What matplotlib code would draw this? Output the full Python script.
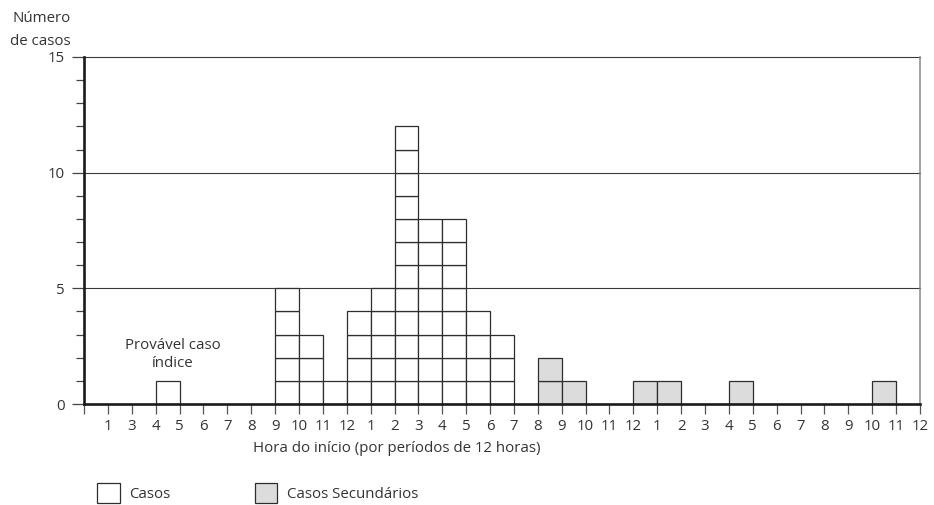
import matplotlib
matplotlib.use("Agg")
import matplotlib.pyplot as plt
from matplotlib.patches import Patch
import numpy as np

# ---- data ----
tick_labels = ["1", "3", "4", "5", "6", "7", "8", "9", "10", "11", "12",
               "1", "2", "3", "4", "5", "6", "7", "8", "9", "10", "11", "12",
               "1", "2", "3", "4", "5", "6", "7", "8", "9", "10", "11", "12"]
# counts per 12-hour period (period p lies between tick p and p+1)
casos = [0, 0, 0, 1, 0, 0, 0, 0, 5, 3, 1, 4, 5, 12, 8, 8, 4, 3,
         0, 0, 0, 0, 0, 0, 0, 0, 0, 0, 0, 0, 0, 0, 0, 0, 0]
secundarios = [0, 0, 0, 0, 0, 0, 0, 0, 0, 0, 0, 0, 0, 0, 0, 0, 0, 0,
               0, 2, 1, 0, 0, 1, 1, 0, 0, 1, 0, 0, 0, 0, 0, 1, 0]
y_major = [0, 5, 10, 15]

plt.rcParams['font.family'] = ['Open Sans', 'DejaVu Sans']
TXT = '#333333'
EDGE = '#2e2e2e'
GRAY = '#dcdcdc'
FS = 10.8

fig = plt.figure(figsize=(9.34, 5.05), dpi=100)
W, H = 934, 505
ax = fig.add_axes([84 / W, 101 / H, (920 - 84) / W, (404 - 57) / H])

n = len(tick_labels)
periods = np.arange(n)

def draw_stacks(counts, face):
    for p, c in zip(periods, counts):
        for k in range(c):
            ax.bar(p, 1, bottom=k, width=1, align='edge', color=face,
                   edgecolor=EDGE, linewidth=0.9, zorder=3)

draw_stacks(casos, 'white')
draw_stacks(secundarios, GRAY)

ax.set_xlim(0, n)
ax.set_ylim(0, 15)

# gridlines at 5,10,15
for yv in y_major[1:]:
    ax.axhline(yv, color='#3a3a3a', lw=0.8, zorder=1, clip_on=False)

# spines
ax.spines['top'].set_visible(False)
ax.spines['left'].set_linewidth(1.9)
ax.spines['left'].set_color('#1a1a1a')
ax.spines['bottom'].set_linewidth(1.9)
ax.spines['bottom'].set_color('#1a1a1a')
ax.spines['bottom'].set_zorder(5)
ax.spines['right'].set_linewidth(1.1)
ax.spines['right'].set_color('#8a8a8a')

# ticks
ax.set_xticks(np.arange(0, n + 1))
ax.set_xticklabels([""] + tick_labels)
ax.tick_params(axis='x', direction='out', length=7, width=0.9, color='#555555',
               pad=4, labelsize=FS, labelcolor=TXT)
ax.set_yticks(y_major)
ax.set_yticks(np.arange(0, 16), minor=True)
ax.tick_params(axis='y', which='major', direction='out', length=9, width=0.9,
               color='#444444', pad=5, labelsize=FS, labelcolor=TXT)
ax.tick_params(axis='y', which='minor', direction='out', length=6, width=0.9,
               color='#444444')

# annotation
ax.text(3.72, 2.15, "Provável caso\níndice", ha='center', va='center',
        fontsize=FS, color=TXT, linespacing=1.3)

# axis titles
fig.text(71 / W, 1 - 30 / H, "Número\nde casos", ha='right', va='center',
         fontsize=FS, color=TXT, linespacing=1.65)
fig.text(397 / W, 1 - 449 / H, "Hora do início (por períodos de 12 horas)",
         ha='center', va='center', fontsize=FS, color=TXT)

# legend
handles = [Patch(facecolor='white', edgecolor=EDGE, linewidth=0.9, label='Casos'),
           Patch(facecolor=GRAY, edgecolor=EDGE, linewidth=0.9, label='Casos Secundários')]
leg = fig.legend(handles=handles, loc='lower left', bbox_to_anchor=(97 / W, 2 / H),
                 ncol=2, frameon=False, fontsize=FS, handlelength=1.5,
                 handleheight=1.7, handletextpad=0.65, columnspacing=5.6,
                 borderpad=0, borderaxespad=0)
for t in leg.get_texts():
    t.set_color(TXT)

fig.savefig("out.png", dpi=100)
